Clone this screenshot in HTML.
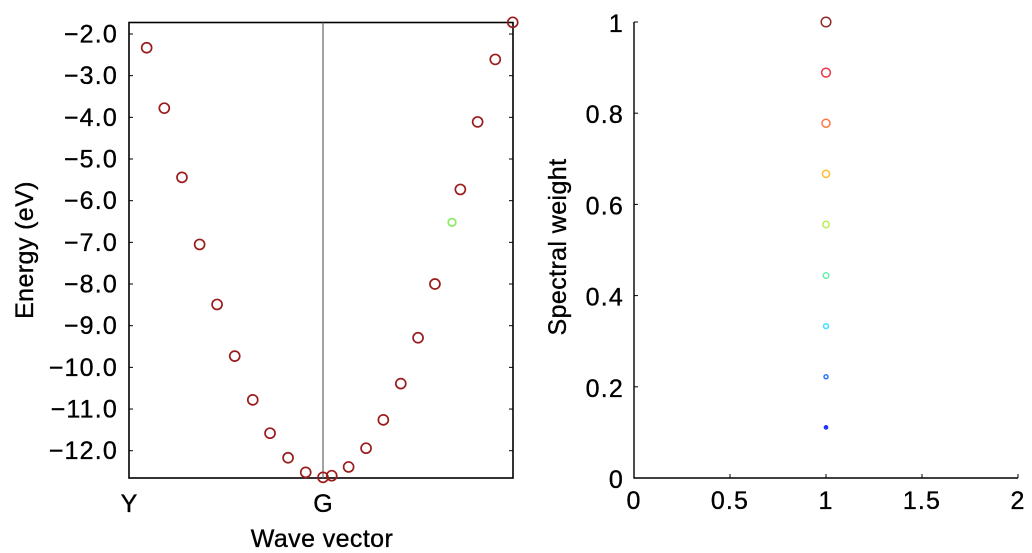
<!DOCTYPE html>
<html><head><meta charset="utf-8"><style>
html,body{margin:0;padding:0;background:#fff;}
svg{display:block;font-family:"Liberation Sans",Arial,sans-serif;}
text{stroke:#000;stroke-width:0.35px;}
</style></head><body>
<svg id="chart" width="1032" height="553" viewBox="0 0 1032 553">
<g id="left"></g>
<g id="right"></g>
</svg>
<script>
// Left panel data
const waveK = [0.091,0.182,0.273,0.364,0.454,0.545,0.638,0.727,0.820,0.911,1.0,1.045,1.132,1.222,1.311,1.401,1.490,1.577,1.665,1.708,1.797,1.888,1.978];
const energies = [-2.33,-3.78,-5.44,-7.05,-8.49,-9.73,-10.78,-11.58,-12.17,-12.52,-12.64,-12.60,-12.39,-11.94,-11.26,-10.39,-9.29,-8.00,-6.52,-5.73,-4.11,-2.61,-1.72];
const pointColors = ["#9b1c1c","#9b1c1c","#9b1c1c","#9b1c1c","#9b1c1c","#9b1c1c","#9b1c1c","#9b1c1c","#9b1c1c","#9b1c1c","#9b1c1c","#9b1c1c","#9b1c1c","#9b1c1c","#9b1c1c","#9b1c1c","#9b1c1c","#9b1c1c","#88ee66","#9b1c1c","#9b1c1c","#9b1c1c","#9b1c1c"];
const energyTicks = [-2,-3,-4,-5,-6,-7,-8,-9,-10,-11,-12];
const kLabels = ["Y","G"];
const kLabelPos = [0,1];
// Right panel data
const weightX = [1,1,1,1,1,1,1,1,1];
const weights = [1.0,0.889,0.778,0.667,0.556,0.444,0.333,0.222,0.111];
const weightColors = ["#8e2a2a","#ee3344","#ff7744","#ffbb33","#bbee55","#66eeaa","#44ddff","#3377ff","#2233ff"];
const weightXTicks = [0,0.5,1,1.5,2];
const weightYTicks = [0,0.2,0.4,0.6,0.8,1];
const weightYLabels = ["0","0.2","0.4","0.6","0.8","1"];

const NS="http://www.w3.org/2000/svg";
function mk(parent,tag,attrs){const e=document.createElementNS(NS,tag);for(const k in attrs)e.setAttribute(k,attrs[k]);parent.appendChild(e);return e;}

// Left axes
const L={x0:129,x1:513,y0:22.5,y1:478};
const kx=k=>129+k*194;
const ey=v=>34+(-2-v)*41.67;
const left=document.getElementById('left');
let r=mk(left,'rect',{x:L.x0,y:L.y0,width:L.x1-L.x0,height:L.y1-L.y0,fill:'none',stroke:'#000','stroke-width':1.6});


let gl=mk(left,'line',{x1:kx(1),x2:kx(1),y1:L.y0,y2:L.y1,stroke:'#666','stroke-width':1.2});


energyTicks.forEach(v=>{
  const y=ey(v);
  let t=mk(left,'line',{x1:L.x0,x2:L.x0+4,y1:y,y2:y,stroke:'#000','stroke-width':1});
  
  
  let t2=mk(left,'line',{x1:L.x1-4,x2:L.x1,y1:y,y2:y,stroke:'#000','stroke-width':1});
  
  
  let tx=mk(left,'text',{x:118,y:y+8.5,'text-anchor':'end','font-size':25,'letter-spacing':1.2});
  tx.textContent='\u2212'+Math.abs(v).toFixed(1);
  
  
});
kLabels.forEach((s,i)=>{
  let tx=mk(left,'text',{x:kx(kLabelPos[i]),y:512,'text-anchor':'middle','font-size':25});
  tx.textContent=s;
  
  
});
let xt=mk(left,'text',{x:322,y:547,'text-anchor':'middle','font-size':25,'letter-spacing':0.4});
xt.textContent='Wave vector';


let yt=mk(left,'text',{x:0,y:0,'text-anchor':'middle','font-size':25,'letter-spacing':0.4,transform:'translate(33,250) rotate(-90)'});
yt.textContent='Energy (eV)';


waveK.forEach((k,i)=>{
  const green=pointColors[i]!=="#9b1c1c";
  let c=mk(left,'circle',{cx:kx(k),cy:ey(energies[i]),r:green?3.8:5,fill:'none',stroke:pointColors[i],'stroke-width':1.7});
  
  
});

// Right axes
const R={x0:634,x1:1018,y0:22,y1:478};
const wx=v=>R.x0+v*(R.x1-R.x0)/2;
const wy=v=>R.y1-v*(R.y1-R.y0);
const right=document.getElementById('right');
let ax=mk(right,'path',{d:`M${R.x0},${R.y0} L${R.x0},${R.y1} L${R.x1},${R.y1}`,fill:'none',stroke:'#000','stroke-width':1.4});


weightXTicks.forEach(v=>{
  const x=wx(v);
  let t=mk(right,'line',{x1:x,x2:x,y1:R.y1-4,y2:R.y1,stroke:'#000','stroke-width':1});
  
  
  let tx=mk(right,'text',{x:x,y:509,'text-anchor':'middle','font-size':25,'letter-spacing':1.2});
  tx.textContent=String(v);
  
  
});
weightYTicks.forEach((v,i)=>{
  const y=wy(v);
  let t=mk(right,'line',{x1:R.x0,x2:R.x0+4,y1:y,y2:y,stroke:'#000','stroke-width':1});
  
  
  let tx=mk(right,'text',{x:624,y:y+10,'text-anchor':'end','font-size':25,'letter-spacing':1.2});
  tx.textContent=weightYLabels[i];
  
  
});
let yt2=mk(right,'text',{x:0,y:0,'text-anchor':'middle','font-size':25,'letter-spacing':0.4,transform:'translate(566,247) rotate(-90)'});
yt2.textContent='Spectral weight';


weights.forEach((w,i)=>{
  const rad=Math.max(1.6,1.2+w*3.6);
  let c=mk(right,'circle',{cx:wx(weightX[i]),cy:wy(w),r:rad,fill:w<0.15?weightColors[i]:'none',stroke:weightColors[i],'stroke-width':1.5});
  
  
});
</script>
</body></html>
